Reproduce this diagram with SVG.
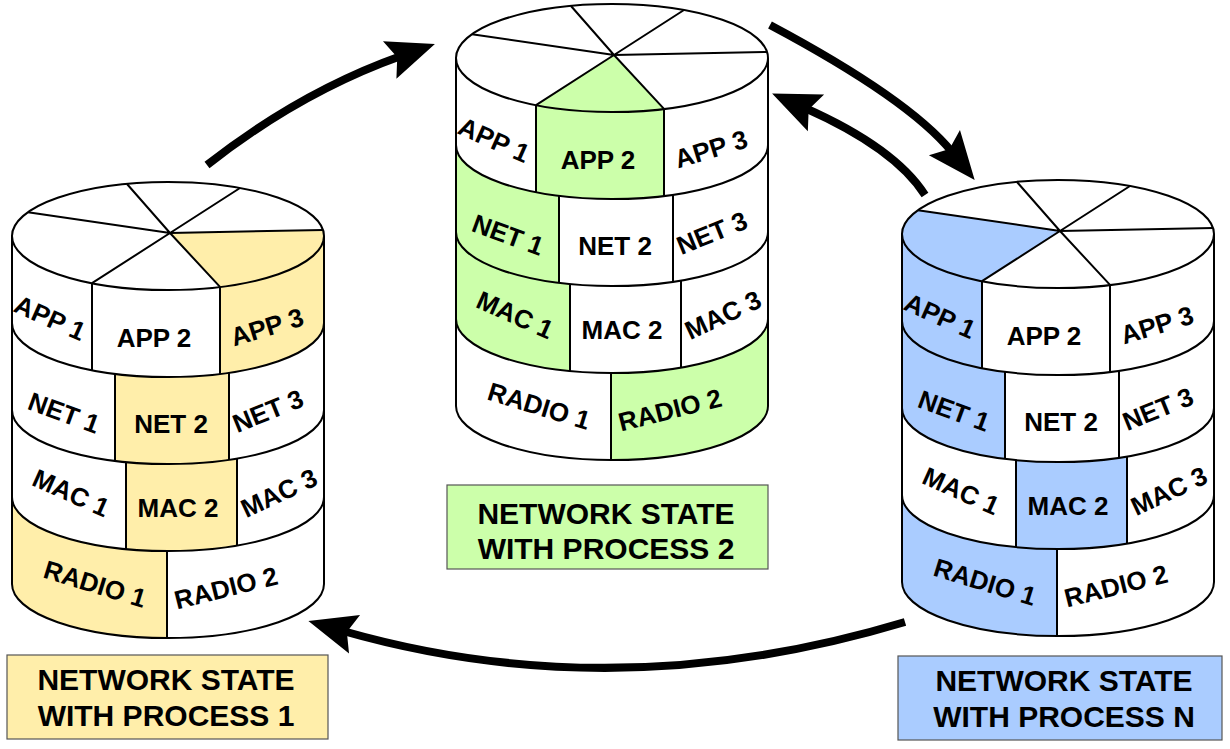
<svg xmlns="http://www.w3.org/2000/svg" width="1230" height="749" viewBox="0 0 1230 749">
<defs>
<style>
.ln{fill:none;stroke:#000;stroke-width:2;stroke-linejoin:round}
.bg{fill:#fff}
.y{fill:#FFEEAA}.g{fill:#CCFFAA}.b{fill:#AACCFF}
.lb{font-family:"Liberation Sans",Arial,sans-serif;font-weight:bold;font-size:26px;text-anchor:middle;fill:#000}
.cap{font-family:"Liberation Sans",Arial,sans-serif;font-weight:bold;font-size:30px;text-anchor:middle;fill:#000}
.box{stroke:#555;stroke-width:1.2}
.arr{fill:none;stroke:#000;stroke-width:8;marker-end:url(#ah)}
</style>
<marker id="ah" markerUnits="userSpaceOnUse" markerWidth="60" markerHeight="50" viewBox="0 0 60 50" refX="16" refY="25" orient="auto">
<path d="M52 25 L4 5 L12 25 L4 45 Z" fill="#000"/>
</marker>
</defs>

<g id="connectors">
<path class="arr" d="M207 165 Q300 92 401 56"/>
<path class="arr" d="M770 25 Q909 99 952 152"/>
<path class="arr" d="M925 195 Q895 148 805 108"/>
<path class="arr" d="M905 622 Q616 709 343 631"/>
</g>

<g id="state1" transform="translate(0 0)">
<path class="bg" d="M12 236 L12 584 A156 54 0 0 0 324 584 L324 236 Z"/>
<ellipse class="bg" cx="168" cy="236" rx="156" ry="54"/>
<path class="y" d="M170 233 L323 229.9 A156 54 0 0 1 324 236 L324 323 A156 54 0 0 1 220 373.9 L220 286.9 Z"/>
<path class="y" d="M115 373.8 A156 54 0 0 0 229 372.7 L229 459.7 A156 54 0 0 1 115 460.8 Z"/>
<path class="y" d="M126 462 A156 54 0 0 0 237 458.4 L237 545.4 A156 54 0 0 1 126 549 Z"/>
<path class="y" d="M12 497 A156 54 0 0 0 167 551 L167 638 A156 54 0 0 1 12 584 Z"/>
<ellipse class="ln" cx="168" cy="236" rx="156" ry="54"/>
<path class="ln" d="M12 236 V584 M324 236 V584 M12 323 A156 54 0 0 0 324 323 M12 410 A156 54 0 0 0 324 410 M12 497 A156 54 0 0 0 324 497 M12 584 A156 54 0 0 0 324 584"/>
<path class="ln" d="M170 233 L28 212.2 M170 233 L127 184 M170 233 L240 188 M170 233 L323 229.9 M170 233 L220 286.9 M170 233 L92 283.2"/>
<path class="ln" d="M92 283.2 V370.2 M220 286.9 V373.9 M115 373.8 V460.8 M229 372.7 V459.7 M126 462 V549 M237 458.4 V545.4 M167 551 V638"/>
<text class="lb" transform="translate(50 318) rotate(24)" y="9">APP 1</text>
<text class="lb" x="154" y="347">APP 2</text>
<text class="lb" transform="translate(267 327) rotate(-17)" y="9">APP 3</text>
<text class="lb" transform="translate(64 413) rotate(20)" y="9">NET 1</text>
<text class="lb" x="171" y="433">NET 2</text>
<text class="lb" transform="translate(268 411) rotate(-22)" y="9">NET 3</text>
<text class="lb" transform="translate(71 493) rotate(24)" y="9">MAC 1</text>
<text class="lb" x="178" y="517">MAC 2</text>
<text class="lb" transform="translate(279 493) rotate(-25)" y="9">MAC 3</text>
<text class="lb" transform="translate(95 584) rotate(17)" y="9">RADIO 1</text>
<text class="lb" transform="translate(226 588) rotate(-14)" y="9">RADIO 2</text>
</g>

<g id="state2" transform="translate(444 -178)">
<path class="bg" d="M12 236 L12 584 A156 54 0 0 0 324 584 L324 236 Z"/>
<ellipse class="bg" cx="168" cy="236" rx="156" ry="54"/>
<path class="g" d="M170 233 L92 283.2 L92 370.2 A156 54 0 0 0 220 373.9 L220 286.9 Z"/>
<path class="g" d="M12 323 A156 54 0 0 0 115 373.8 L115 460.8 A156 54 0 0 1 12 410 Z"/>
<path class="g" d="M12 410 A156 54 0 0 0 126 462 L126 549 A156 54 0 0 1 12 497 Z"/>
<path class="g" d="M167 551 A156 54 0 0 0 324 497 L324 584 A156 54 0 0 1 167 638 Z"/>
<ellipse class="ln" cx="168" cy="236" rx="156" ry="54"/>
<path class="ln" d="M12 236 V584 M324 236 V584 M12 323 A156 54 0 0 0 324 323 M12 410 A156 54 0 0 0 324 410 M12 497 A156 54 0 0 0 324 497 M12 584 A156 54 0 0 0 324 584"/>
<path class="ln" d="M170 233 L28 212.2 M170 233 L127 184 M170 233 L240 188 M170 233 L323 229.9 M170 233 L220 286.9 M170 233 L92 283.2"/>
<path class="ln" d="M92 283.2 V370.2 M220 286.9 V373.9 M115 373.8 V460.8 M229 372.7 V459.7 M126 462 V549 M237 458.4 V545.4 M167 551 V638"/>
<text class="lb" transform="translate(50 318) rotate(24)" y="9">APP 1</text>
<text class="lb" x="154" y="347">APP 2</text>
<text class="lb" transform="translate(267 327) rotate(-17)" y="9">APP 3</text>
<text class="lb" transform="translate(64 413) rotate(20)" y="9">NET 1</text>
<text class="lb" x="171" y="433">NET 2</text>
<text class="lb" transform="translate(268 411) rotate(-22)" y="9">NET 3</text>
<text class="lb" transform="translate(71 493) rotate(24)" y="9">MAC 1</text>
<text class="lb" x="178" y="517">MAC 2</text>
<text class="lb" transform="translate(279 493) rotate(-25)" y="9">MAC 3</text>
<text class="lb" transform="translate(95 584) rotate(17)" y="9">RADIO 1</text>
<text class="lb" transform="translate(226 588) rotate(-14)" y="9">RADIO 2</text>
</g>

<g id="stateN" transform="translate(890 -2)">
<path class="bg" d="M12 236 L12 584 A156 54 0 0 0 324 584 L324 236 Z"/>
<ellipse class="bg" cx="168" cy="236" rx="156" ry="54"/>
<path class="b" d="M170 233 L28 212.2 A156 54 0 0 0 12 236 L12 323 A156 54 0 0 0 92 370.2 L92 283.2 Z"/>
<path class="b" d="M12 323 A156 54 0 0 0 115 373.8 L115 460.8 A156 54 0 0 1 12 410 Z"/>
<path class="b" d="M126 462 A156 54 0 0 0 237 458.4 L237 545.4 A156 54 0 0 1 126 549 Z"/>
<path class="b" d="M12 497 A156 54 0 0 0 167 551 L167 638 A156 54 0 0 1 12 584 Z"/>
<ellipse class="ln" cx="168" cy="236" rx="156" ry="54"/>
<path class="ln" d="M12 236 V584 M324 236 V584 M12 323 A156 54 0 0 0 324 323 M12 410 A156 54 0 0 0 324 410 M12 497 A156 54 0 0 0 324 497 M12 584 A156 54 0 0 0 324 584"/>
<path class="ln" d="M170 233 L28 212.2 M170 233 L127 184 M170 233 L240 188 M170 233 L323 229.9 M170 233 L220 286.9 M170 233 L92 283.2"/>
<path class="ln" d="M92 283.2 V370.2 M220 286.9 V373.9 M115 373.8 V460.8 M229 372.7 V459.7 M126 462 V549 M237 458.4 V545.4 M167 551 V638"/>
<text class="lb" transform="translate(50 318) rotate(24)" y="9">APP 1</text>
<text class="lb" x="154" y="347">APP 2</text>
<text class="lb" transform="translate(267 327) rotate(-17)" y="9">APP 3</text>
<text class="lb" transform="translate(64 413) rotate(20)" y="9">NET 1</text>
<text class="lb" x="171" y="433">NET 2</text>
<text class="lb" transform="translate(268 411) rotate(-22)" y="9">NET 3</text>
<text class="lb" transform="translate(71 493) rotate(24)" y="9">MAC 1</text>
<text class="lb" x="178" y="517">MAC 2</text>
<text class="lb" transform="translate(279 493) rotate(-25)" y="9">MAC 3</text>
<text class="lb" transform="translate(95 584) rotate(17)" y="9">RADIO 1</text>
<text class="lb" transform="translate(226 588) rotate(-14)" y="9">RADIO 2</text>
</g>

<g id="label1">
<rect class="y box" x="7" y="655" width="321" height="84"/>
<text class="cap" x="166" y="690">NETWORK STATE</text>
<text class="cap" x="166" y="726">WITH PROCESS 1</text>
</g>
<g id="label2">
<rect class="g box" x="447" y="485" width="321" height="84"/>
<text class="cap" x="606" y="524">NETWORK STATE</text>
<text class="cap" x="606" y="559">WITH PROCESS 2</text>
</g>
<g id="labelN">
<rect class="b box" x="898" y="656" width="324" height="84"/>
<text class="cap" x="1064" y="691">NETWORK STATE</text>
<text class="cap" x="1064" y="727">WITH PROCESS N</text>
</g>
</svg>
